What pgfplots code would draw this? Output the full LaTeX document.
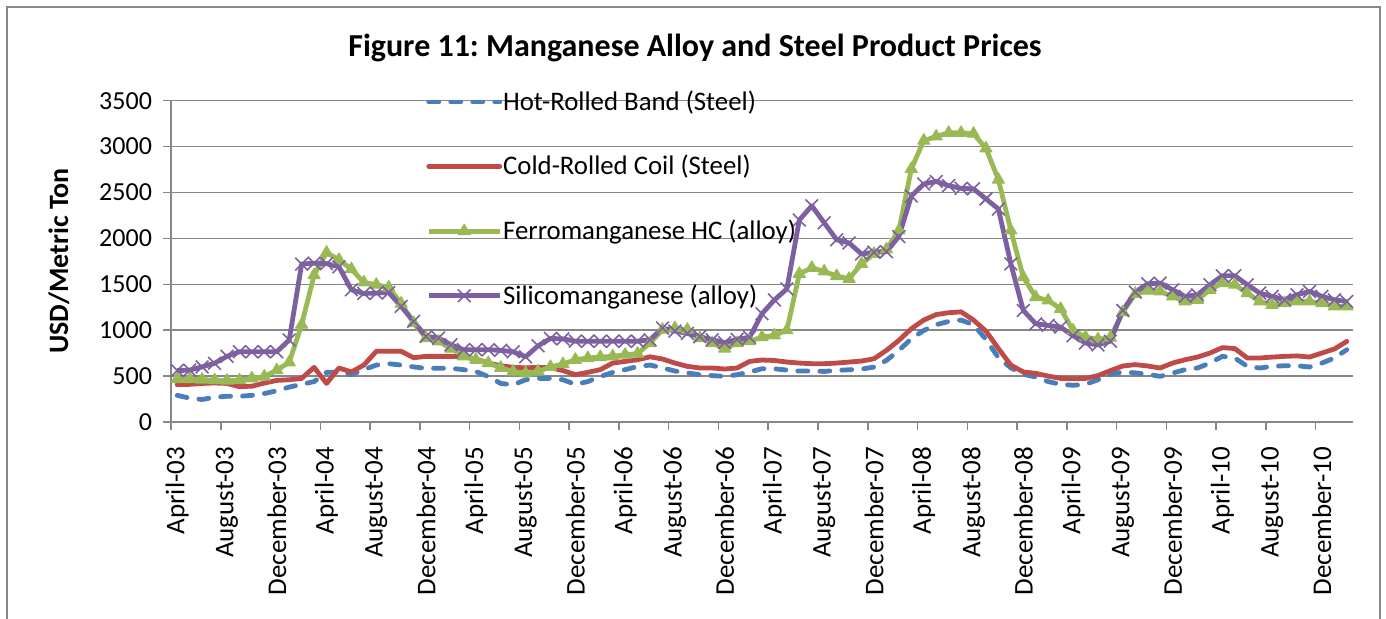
\documentclass[border=0pt]{standalone}
\usepackage{fontspec}
\setmainfont{Carlito}
\usepackage{pgfplots}
\pgfplotsset{compat=1.18}
\usepackage{pgfplotstable}
\definecolor{hrb}{HTML}{4A7EBB}
\definecolor{crc}{HTML}{BE4B48}
\definecolor{fmn}{HTML}{98B954}
\definecolor{smn}{HTML}{7D60A0}
\definecolor{gridgray}{HTML}{878787}
\frenchspacing

\pgfplotstableread{
i hrb crc fmn smn
0 290 406 468 560
1 260 410 468 565
2 245 420 461 600
3 270 425 455 640
4 280 420 450 715
5 280 385 455 765
6 290 390 475 765
7 310 424 495 765
8 340 453 565 765
9 380 460 650 893
10 410 475 1060 1720
11 440 595 1600 1730
12 540 420 1845 1725
13 545 588 1767 1690
14 515 545 1665 1440
15 570 620 1520 1400
16 620 770 1495 1404
17 635 770 1465 1411
18 620 770 1290 1259
19 600 700 1078 1096
20 585 715 914 932
21 585 715 878 914
22 585 715 800 842
23 570 710 715 787
24 550 686 678 787
25 495 642 642 787
26 420 613 590 780
27 405 595 550 765
28 460 590 530 710
29 475 595 550 830
30 475 590 600 910
31 460 560 630 905
32 410 515 678 880
33 440 541 697 880
34 495 570 707 880
35 540 642 715 880
36 570 660 733 880
37 605 678 744 880
38 620 710 860 896
39 590 686 1005 1023
40 555 642 1023 990
41 535 606 1005 965
42 515 588 914 930
43 505 588 860 895
44 497 577 800 865
45 515 588 860 900
46 545 660 880 923
47 580 675 925 1179
48 580 670 943 1330
49 565 653 1000 1450
50 555 642 1614 2200
51 555 635 1680 2355
52 551 635 1640 2170
53 562 642 1590 1985
54 569 653 1560 1950
55 577 664 1723 1830
56 598 689 1832 1850
57 671 780 1880 1855
58 780 889 2086 2020
59 907 1016 2757 2460
60 997 1110 3065 2593
61 1060 1170 3110 2620
62 1095 1190 3150 2575
63 1110 1200 3150 2545
64 1060 1110 3140 2540
65 900 990 2980 2430
66 700 800 2640 2320
67 590 620 2086 1723
68 520 545 1578 1215
69 490 530 1360 1070
70 440 500 1324 1052
71 410 475 1233 1034
72 400 470 997 940
73 410 475 925 860
74 460 505 900 840
75 520 560 920 880
76 545 610 1197 1215
77 535 625 1396 1415
78 520 610 1430 1505
79 497 588 1422 1513
80 533 642 1368 1440
81 570 678 1313 1368
82 588 707 1331 1386
83 642 751 1440 1495
84 715 810 1513 1593
85 697 800 1495 1593
86 606 697 1404 1495
87 588 697 1313 1404
88 606 707 1277 1368
89 613 715 1295 1331
90 613 720 1313 1386
91 599 707 1313 1422
92 642 751 1295 1368
93 697 795 1259 1331
94 787 878 1259 1313
}\datatable

\begin{document}
\begin{tikzpicture}
\useasboundingbox (0,0) rectangle (693pt,309.5pt);
\draw[gridgray, line width=0.75pt] (3.5pt,-2pt) -- (3.5pt,306pt) -- (690pt,306pt) -- (690pt,-2pt);
\node[font=\bfseries\fontsize{16}{19}\selectfont] at (347.5pt,285.5pt) {Figure 11: Manganese Alloy and Steel Product Prices};
\node[rotate=90, font=\bfseries\fontsize{14}{16}\selectfont] at (29.5pt,179pt) {USD/Metric Ton};
\begin{axis}[
  at={(85.5pt,98.5pt)}, anchor=south west,
  scale only axis, width=591pt, height=160.65pt,
  xmin=-0.5, xmax=94.5, ymin=0, ymax=3500,
  axis lines*=left,
  axis line style={draw=gridgray, line width=0.75pt, -},
  tick align=outside,
  major tick length=4pt,
  tick style={draw=gridgray, line width=0.75pt},
  xtick={-0.5,3.5,...,91.5}, xticklabels={},
  extra x ticks={0,4,...,92},
  extra x tick labels={April-03,August-03,December-03,April-04,August-04,December-04,April-05,August-05,December-05,April-06,August-06,December-06,April-07,August-07,December-07,April-08,August-08,December-08,April-09,August-09,December-09,April-10,August-10,December-10},
  extra x tick style={major tick length=0pt, grid=none, xticklabel style={rotate=90, anchor=east, font=\fontsize{13.5}{15}\selectfont, xshift=-9pt}},
  ytick={0,500,...,3500},
  yticklabels={0,500,1000,1500,2000,2500,3000,3500},
  yticklabel style={font=\fontsize{13}{15}\selectfont, xshift=-2pt},
  ymajorgrids,
  grid style={draw=gridgray, line width=0.75pt},
  legend cell align=left,
  legend style={at={(axis description cs:0.2157,1.045)}, anchor=north west, draw=none, fill=none, inner sep=0pt, font=\fontsize{13.4}{15}\selectfont, row sep=17pt, column sep=-1.5pt},
  legend image code/.code={\draw[mark repeat=2, mark phase=2, #1] plot coordinates {(0pt,0pt) (17.75pt,0pt) (35.5pt,0pt)};},
]
\addplot[hrb, line width=2.4pt, dash pattern=on 5pt off 6pt, line cap=round, line join=round] table[x=i,y=hrb]{\datatable};
\addplot[crc, line width=2.4pt, line cap=round, line join=round] table[x=i,y=crc]{\datatable};
\addplot[fmn, line width=2.4pt, line join=round, mark=triangle*, mark size=3.5pt, mark options={solid, fill=fmn, draw=fmn, line width=0.5pt}] table[x=i,y=fmn]{\datatable};
\addplot[smn, line width=2.4pt, line join=round, mark=x, mark size=4.5pt, mark options={solid, line width=0.8pt}] table[x=i,y=smn]{\datatable};
\legend{Hot-Rolled Band (Steel), Cold-Rolled Coil (Steel), Ferromanganese HC (alloy), Silicomanganese (alloy)}
\end{axis}
\end{tikzpicture}
\end{document}
